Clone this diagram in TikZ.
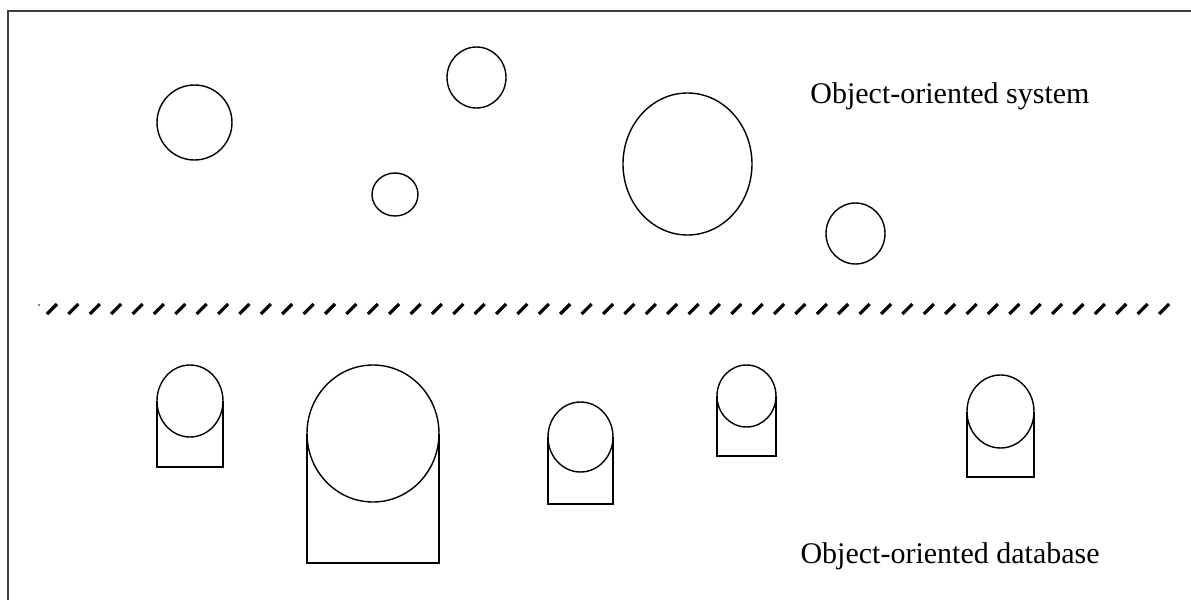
\documentclass[tikz,border=0pt]{standalone}
\usepackage{fontspec}
\setmainfont{Liberation Serif}
\begin{document}
\begin{tikzpicture}[x=0.5pt,y=-0.5pt,
  outline/.style={draw=black,line width=0.7pt},
  frameline/.style={draw=black!75,line width=1.1pt},
  hatch/.style={draw=black,line width=1.6pt},
  label/.style={font=\fontsize{15}{18}\selectfont,inner sep=0pt}]
\useasboundingbox (0,0) rectangle (1191,600);
% frame (top and left edges visible)
\draw[frameline] (8,600) -- (8,11) -- (1191,11);
% objects in the object-oriented system
\draw[outline] (194.5,122.5) ellipse [x radius=37.5, y radius=37.5];
\draw[outline] (395,194.5) ellipse [x radius=23, y radius=21.5];
\draw[outline] (476.5,77.5) ellipse [x radius=29.5, y radius=30.5];
\draw[outline] (687.5,164) ellipse [x radius=64.5, y radius=71];
\draw[outline] (855.5,233.5) ellipse [x radius=29.5, y radius=30.5];
\node[label,anchor=base west] (sys) at (810,103) {Object-oriented system};
% hatched separator
\fill (39,305) circle [radius=0.8];
\foreach \i in {0,...,52}{
  \draw[hatch] ({47+21.385*\i},314) -- ({57+21.385*\i},304);
}
% persistent objects in the database
\foreach \cx/\cy/\rx/\ry/\bot in {190/401/33/36/467, 373/433.5/66/68.5/563, 580.5/437/32.5/35/504, 746.5/396/29.5/31/456, 1000.5/411.5/33.5/36.5/477}{
  \draw[outline] ({\cx-\rx},\cy) -- ({\cx-\rx},\bot) -- ({\cx+\rx},\bot) -- ({\cx+\rx},\cy);
  \draw[outline] (\cx,\cy) ellipse [x radius=\rx, y radius=\ry];
}
\node[label,anchor=base east] (db) at (1100,563) {Object-oriented database};
\end{tikzpicture}
\end{document}
